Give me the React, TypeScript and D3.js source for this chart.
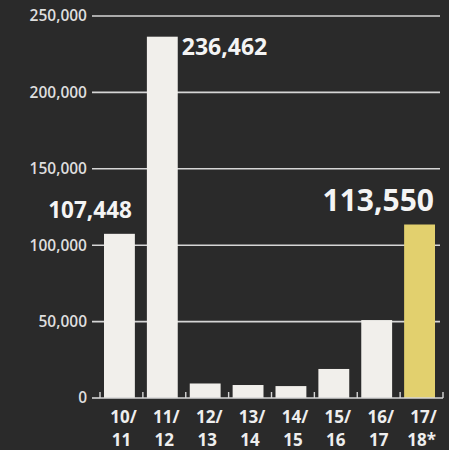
import React from "react";
import * as d3 from "d3";

const seasons = ["10/|11", "11/|12", "12/|13", "13/|14", "14/|15", "15/|16", "16/|17", "17/|18*"];
const values = [107448, 236462, 9500, 8500, 7800, 19000, 51000, 113550];
const yTicks = [0, 50000, 100000, 150000, 200000, 250000];
const labelled = [
    { idx: 0, text: "107,448" },
    { idx: 1, text: "236,462" },
    { idx: 7, text: "113,550" },
];

const W = 449;
const H = 450;

export default function App() {
    const margin = { top: 16, right: 6, bottom: 52, left: 100 };

    const x = d3.scaleBand<number>()
        .domain(d3.range(seasons.length))
        .range([margin.left, W - margin.right])
        .paddingInner(0.28)
        .paddingOuter(0.14);
    const y = d3.scaleLinear([0, 250000], [H - margin.bottom, margin.top]);

    const step = x.step();
    const bounds = d3.range(seasons.length + 1).map((i) => margin.left + i * step);
    const fmt = d3.format(",");
    const font = "'Open Sans', 'DejaVu Sans', sans-serif";

    return <svg width={W} height={H} style={{ position: "fixed", left: 0, top: 0, background: "#2a2a2a" }}>
        <rect x={0} y={0} width={W} height={H} fill="#2a2a2a" />
        {/* grid */}
        {yTicks.map((t) => (
            <g key={t}>
                {t > 0 && <line x1={92} x2={440} y1={y(t)} y2={y(t)} stroke="#d6d6d6" strokeWidth={1.6} />}
                <text x={87} y={y(t)} dy="0.35em" textAnchor="end" fill="#dedede"
                    fontFamily={font} fontSize={15.5} fontWeight={600}>{t === 0 ? "0" : fmt(t)}</text>
            </g>
        ))}
        {/* bars */}
        {values.map((v, i) => (
            <rect key={i} x={x(i)! - 2} width={x.bandwidth()} y={y(v)} height={y(0) - y(v)}
                fill={i === seasons.length - 1 ? "#e2d06e" : "#f1efeb"} />
        ))}
        {/* baseline with ticks */}
        <line x1={92} x2={margin.left} y1={y(0)} y2={y(0)} stroke="#d6d6d6" strokeWidth={1.6} />
        <line x1={margin.left} x2={W - margin.right} y1={y(0)} y2={y(0)} stroke="#d6d6d6" strokeWidth={1.6} />
        {bounds.map((b, i) => (
            <line key={i} x1={b} x2={b} y1={y(0)} y2={y(0) - 6} stroke="#d6d6d6" strokeWidth={1.4} />
        ))}
        {/* x labels */}
        {seasons.map((s, i) => {
            const [a, b] = s.split("|");
            const cx = margin.left + (i + 0.5) * step;
            return <g key={s} fill="#eeeeee" fontFamily={font} fontSize={17} fontWeight={700} textAnchor="middle">
                <text x={cx + 2} y={423}>{a}</text>
                <text x={cx} y={446}>{b}</text>
            </g>;
        })}
        {/* value labels */}
        {labelled.map((l) => {
            const v = values[l.idx];
            const bx = x(l.idx)! - 2;
            if (l.idx === 0) {
                return <text key={l.text} x={bx + x.bandwidth() - 3} y={y(v) - 16} textAnchor="end" fill="#f4f4f4"
                    fontFamily={font} fontSize={22.5} fontWeight={700}>{l.text}</text>;
            }
            if (l.idx === 1) {
                return <text key={l.text} x={bx + x.bandwidth() + 4} y={y(v) + 18} textAnchor="start" fill="#f4f4f4"
                    fontFamily={font} fontSize={23} fontWeight={700}>{l.text}</text>;
            }
            return <text key={l.text} x={bx + x.bandwidth() - 1} y={y(v) - 13} textAnchor="end" fill="#f4f4f4"
                fontFamily={font} fontSize={30} fontWeight={700}>{l.text}</text>;
        })}
    </svg>;
}
